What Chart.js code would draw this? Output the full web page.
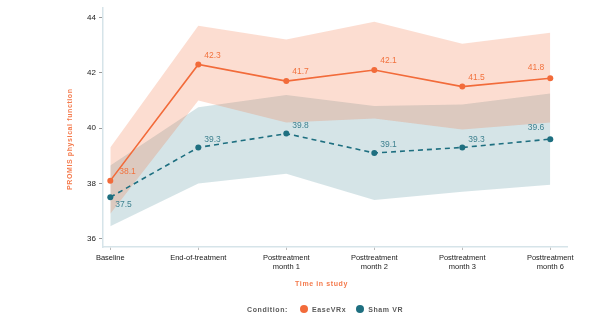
<!DOCTYPE html>
<html>
<head>
<meta charset="utf-8">
<script src="https://cdn.jsdelivr.net/npm/chart.js@4/dist/chart.umd.min.js"></script>
<style>
  html, body { margin: 0; padding: 0; background: #fff; }
  #wrap { position: relative; width: 604px; height: 317px; }
  #legend { position: absolute; left: 247px; top: 305px; display: flex; align-items: center;
            font-family: "Liberation Sans", Arial, sans-serif; font-size: 7px; font-weight: bold;
            letter-spacing: 0.6px; color: #5a5a5a; white-space: nowrap; }
  #legend .dot { display: inline-block; width: 8px; height: 8px; border-radius: 50%; margin: 0 4px 0 10px; }
</style>
</head>
<body>
<div id="wrap">
  <canvas id="c" width="604" height="317"></canvas>
  <div id="legend">
    <span>Condition:</span>
    <span class="dot" style="background:#F26B3A; margin-left:12px"></span><span>EaseVRx</span>
    <span class="dot" style="background:#1E6F80"></span><span>Sham VR</span>
  </div>
</div>
<script>
const categories = [["Baseline"], ["End-of-treatment"], ["Posttreatment", "month 1"], ["Posttreatment", "month 2"], ["Posttreatment", "month 3"], ["Posttreatment", "month 6"]];
const easeMean  = [38.1, 42.3, 41.7, 42.1, 41.5, 41.8];
const easeUpper = [39.3, 43.7, 43.2, 43.85, 43.05, 43.45];
const easeLower = [36.9, 41.0, 40.2, 40.35, 39.95, 40.2];
const shamMean  = [37.5, 39.3, 39.8, 39.1, 39.3, 39.6];
const shamUpper = [38.65, 40.75, 41.2, 40.8, 40.85, 41.25];
const shamLower = [36.45, 38.0, 38.35, 37.4, 37.7, 37.95];
const yTicks = [36, 38, 40, 42, 44];

const ORANGE = '#F26B3A', TEAL = '#1E6F80';
const FONT = '"Liberation Sans", Arial, sans-serif';
const pts = arr => arr.map((v, i) => ({ x: i, y: v }));

const labelPlugin = {
  id: 'pointLabels',
  afterDatasetsDraw(chart) {
    const ctx = chart.ctx;
    ctx.save();
    ctx.font = '8.5px ' + FONT;
    ctx.textBaseline = 'middle';
    const draw = (dsIndex, color, offsets) => {
      const meta = chart.getDatasetMeta(dsIndex);
      meta.data.forEach((p, i) => {
        const o = offsets(i);
        ctx.fillStyle = color;
        ctx.textAlign = o.align;
        ctx.fillText(chart.data.datasets[dsIndex].data[i].y.toFixed(1), p.x + o.dx, p.y + o.dy);
      });
    };
    const last = easeMean.length - 1;
    draw(0, '#F2733F', i => i === last ? { dx: -6, dy: -11, align: 'right' } : { dx: i === 0 ? 9 : 6, dy: -9, align: 'left' });
    draw(1, '#3F8290', i => i === last ? { dx: -6, dy: -11, align: 'right' } : (i === 0 ? { dx: 5, dy: 7, align: 'left' } : { dx: 6, dy: -8, align: 'left' }));
    ctx.restore();
  }
};

const titlePlugin = {
  id: 'axisTitles',
  afterDraw(chart) {
    const ctx = chart.ctx, x = chart.scales.x, y = chart.scales.y;
    ctx.save();
    ctx.fillStyle = '#F47A4C';
    ctx.font = 'bold 7px ' + FONT;
    ctx.letterSpacing = '0.6px';
    ctx.textAlign = 'center';
    ctx.textBaseline = 'middle';
    ctx.fillText('Time in study', x.getPixelForValue(2.4), 284);
    ctx.translate(70, y.getPixelForValue(39.6));
    ctx.rotate(-Math.PI / 2);
    ctx.fillText('PROMIS physical function', 0, 0);
    ctx.restore();
  }
};

new Chart(document.getElementById('c'), {
  type: 'line',
  data: {
    datasets: [
      { label: 'EaseVRx', data: pts(easeMean), borderColor: ORANGE, backgroundColor: ORANGE, borderWidth: 1.6,
        pointRadius: 3, pointBackgroundColor: ORANGE, pointBorderWidth: 0, fill: false, order: 1 },
      { label: 'Sham VR', data: pts(shamMean), borderColor: TEAL, backgroundColor: TEAL, borderWidth: 1.6,
        borderDash: [5, 4], pointRadius: 3, pointBackgroundColor: TEAL, pointBorderWidth: 0, fill: false, order: 2 },
      { label: 'eu', data: pts(easeUpper), borderWidth: 0, pointRadius: 0, fill: 3,
        backgroundColor: 'rgba(242,107,58,0.23)', order: 3 },
      { label: 'el', data: pts(easeLower), borderWidth: 0, pointRadius: 0, fill: false, order: 4 },
      { label: 'su', data: pts(shamUpper), borderWidth: 0, pointRadius: 0, fill: 5,
        backgroundColor: 'rgba(30,111,128,0.19)', order: 5 },
      { label: 'sl', data: pts(shamLower), borderWidth: 0, pointRadius: 0, fill: false, order: 6 }
    ]
  },
  options: {
    responsive: false,
    animation: false,
    layout: { padding: { top: 5, right: 37, bottom: 0, left: 0 } },
    plugins: { legend: { display: false }, tooltip: { enabled: false } },
    elements: { line: { tension: 0 } },
    scales: {
      x: {
        type: 'linear', min: -0.083, max: 5.19,
        afterBuildTicks: s => { s.ticks = categories.map((c, i) => ({ value: i })); },
        afterFit: s => { s.height = 70; },
        ticks: { callback: v => categories[v], font: { family: FONT, size: 7.5 }, color: '#1a1a1a', padding: 3, maxRotation: 0, autoSkip: false },
        grid: { drawOnChartArea: false, drawTicks: true, tickLength: 3, tickColor: '#bbb' },
        border: { color: '#D6E4E9', width: 1.5 }
      },
      y: {
        min: 35.7, max: 44.35,
        afterBuildTicks: s => { s.ticks = yTicks.map(v => ({ value: v })); },
        afterFit: s => { s.width = 103; },
        ticks: { font: { family: FONT, size: 8 }, color: '#1a1a1a', padding: 3 },
        grid: { drawOnChartArea: false, drawTicks: true, tickLength: 4, tickColor: '#999' },
        border: { color: '#D6E4E9', width: 1.5 }
      }
    }
  },
  plugins: [labelPlugin, titlePlugin]
});
</script>
</body>
</html>
